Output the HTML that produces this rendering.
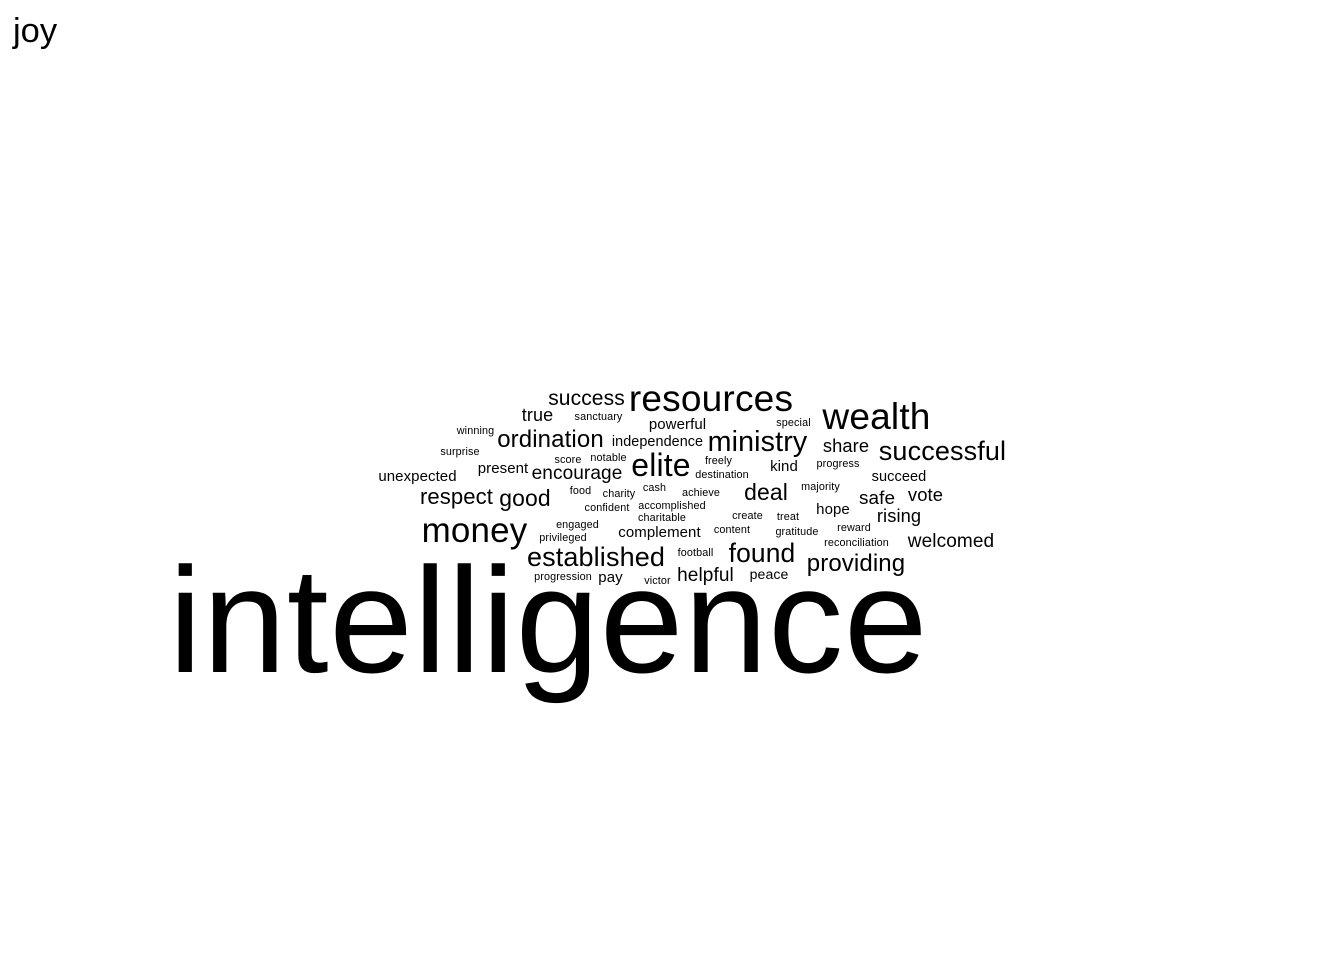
<!DOCTYPE html>
<html lang="en">
<head>
<meta charset="utf-8">
<title>joy word cloud</title>
<style>
html,body{margin:0;padding:0;background:#fff;width:1344px;height:960px;overflow:hidden}
svg{display:block}
text{font-family:"Liberation Sans",Arial,sans-serif;fill:#000}
</style>
</head>
<body>
<svg id="cloud" xmlns="http://www.w3.org/2000/svg" width="1344" height="960" viewBox="0 0 1344 960">
  <text x="13" y="42" font-size="34.5">joy</text>
  <g id="words"></g>
</svg>
<script>
const words = ["intelligence","resources","wealth","money","elite","successful","established","ministry","found","providing","ordination","deal","good","respect","success","encourage","helpful","welcomed","share","true","safe","rising","vote","independence","complement","powerful","present","unexpected","succeed","hope","kind","peace","pay","sanctuary","winning","surprise","special","score","notable","freely","destination","progress","majority","food","charity","cash","achieve","confident","accomplished","charitable","create","treat","engaged","privileged","content","gratitude","reward","reconciliation","football","progression","victor"];
/* Relative word weight (largest word = 100). */
const weights = [100,24.7,24.7,23.3,21.3,18,18,19.1,17.6,16,16,15.3,15.3,14.7,14,12.7,12.7,12.7,12.2,12,12.6,12.2,12.3,9.6,10,10,10,10,9.7,10,10,9.4,10,7.2,7.2,7.2,7.2,7.2,7.2,7.2,7.2,7.2,7.2,7.2,7.2,7.2,7.2,7.2,7.2,7.2,7.2,7.2,7.2,7.2,7.2,7.2,7.2,7.2,7.2,7.2,7.2];

/* Hand-read cloud placement: word -> centre x and baseline y in page pixels. */
const placement = {
  intelligence:[548.4,672], resources:[711,411], wealth:[876.5,429], money:[474.5,542], elite:[661,476],
  successful:[942.5,460], established:[596,566], ministry:[757.5,451], found:[762,562], providing:[856,571],
  ordination:[550.5,447], deal:[766,500], good:[525,506], respect:[456.5,504], success:[586.5,405],
  encourage:[577,479], helpful:[705.5,581], welcomed:[951,547], share:[846,452], "true":[537.5,421],
  safe:[877,504], rising:[899,522], vote:[925.5,501], independence:[657.5,446], complement:[659.5,537],
  powerful:[677.5,429], present:[503,473], unexpected:[417.5,481], succeed:[899,481], hope:[833,514],
  kind:[784,471], peace:[769,579], pay:[610.5,582], sanctuary:[598.5,420], winning:[475.5,434],
  surprise:[460,455], special:[793.5,426], score:[568,463], notable:[608.5,461], freely:[718.5,464],
  destination:[722,478], progress:[838,467], majority:[820.5,490], food:[580.5,494], charity:[619,497],
  cash:[654.5,491], achieve:[701,496], confident:[607,511], accomplished:[672,509], charitable:[662,521],
  create:[747.5,519], treat:[788,520], engaged:[577.5,528], privileged:[563,541], content:[732,533],
  gratitude:[797,535], reward:[854,531], reconciliation:[856.5,546], football:[695.5,556],
  progression:[563,580], victor:[657.5,584]
};

const MAX_FONT_PX = 150;
function sizeScale(w){
  return MAX_FONT_PX * w / Math.max.apply(null, weights);
}
/* The reference's hinted glyphs run slightly wider than the local font. */
function tracking(px){
  return px < 12 ? 0.12 : px * 0.005;
}

const group = document.getElementById('words');
words.forEach(function(word, i){
  const el = document.createElementNS('http://www.w3.org/2000/svg', 'text');
  const spot = placement[word];
  const px = sizeScale(weights[i]);
  el.setAttribute('x', spot[0]);
  el.setAttribute('y', spot[1]);
  el.setAttribute('text-anchor', 'middle');
  el.setAttribute('font-size', px.toFixed(2));
  el.setAttribute('letter-spacing', tracking(px).toFixed(3));
  
  
  el.textContent = word;
  group.appendChild(el);
});
</script>
</body>
</html>
